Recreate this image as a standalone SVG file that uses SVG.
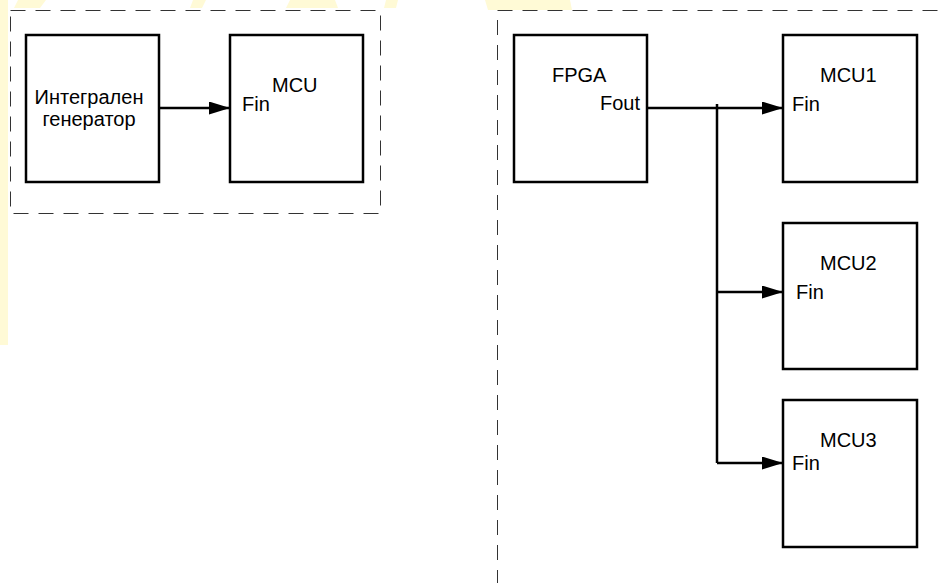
<svg xmlns="http://www.w3.org/2000/svg" width="942" height="583" viewBox="0 0 942 583">
<style>
.box{fill:#fff;stroke:#000;stroke-width:2.5}
.dash{fill:none;stroke:#333;stroke-width:1;stroke-dasharray:15 10}
.wire{fill:none;stroke:#000;stroke-width:2.5}
text{font-family:"Liberation Sans",Arial,sans-serif;font-size:20px;fill:#000}
.hl{fill:#fffad6}
</style>
<defs>
<marker id="ah" markerWidth="21" markerHeight="13" refX="21" refY="6.5" orient="auto" markerUnits="userSpaceOnUse" viewBox="0 0 21 13">
<path d="M0,0 L21,6.5 L0,13 Z" fill="#000"/>
</marker>
</defs>
<rect width="942" height="583" fill="#fff"/>
<g id="bg-marks">
<rect class="hl" x="0" y="0" width="8" height="345"/>
<path class="hl" d="M18,0 H46 L40,8 H14 Z"/>
<path class="hl" d="M193,0 H206 L202,8 H190 Z"/>
<path class="hl" d="M290,0 H335 L338,8 H286 Z"/>
<path class="hl" d="M386,0 H398 L396,8 H384 Z"/>
<path class="hl" d="M485,0 H570 L572,10 H488 Z"/>
</g>
<g id="frames">
<rect class="dash" x="10.5" y="10.5" width="370" height="203"/>
<path class="dash" d="M497.5,10.5 H942 M497.5,20 V583"/>
</g>
<g id="gen">
<rect class="box" x="26" y="35" width="133" height="147"/>
<text x="89" y="104" text-anchor="middle" font-size="21">Интегрален</text>
<text x="89" y="126" text-anchor="middle" font-size="21">генератор</text>
</g>
<g id="mcu">
<rect class="box" x="230" y="35" width="133" height="147"/>
<text x="272" y="92">MCU</text>
<text x="242" y="111">Fin</text>
</g>
<g id="fpga">
<rect class="box" x="514" y="35" width="133" height="147"/>
<text x="552" y="82">FPGA</text>
<text x="640" y="110" text-anchor="end">Fout</text>
</g>
<g id="mcu1">
<rect class="box" x="783" y="35" width="134" height="147"/>
<text x="820" y="82">MCU1</text>
<text x="792" y="111">Fin</text>
</g>
<g id="mcu2">
<rect class="box" x="783" y="223" width="134" height="146"/>
<text x="820" y="270">MCU2</text>
<text x="796" y="299">Fin</text>
</g>
<g id="mcu3">
<rect class="box" x="783" y="400" width="134" height="147"/>
<text x="820" y="447">MCU3</text>
<text x="792" y="470">Fin</text>
</g>
<g id="connectors">
<path class="wire" d="M159,108 H230" marker-end="url(#ah)"/>
<path class="wire" d="M647,108 H783" marker-end="url(#ah)"/>
<path class="wire" d="M717,104 V463"/>
<path class="wire" d="M717,292 H783" marker-end="url(#ah)"/>
<path class="wire" d="M717,463 H783" marker-end="url(#ah)"/>
</g>
</svg>
